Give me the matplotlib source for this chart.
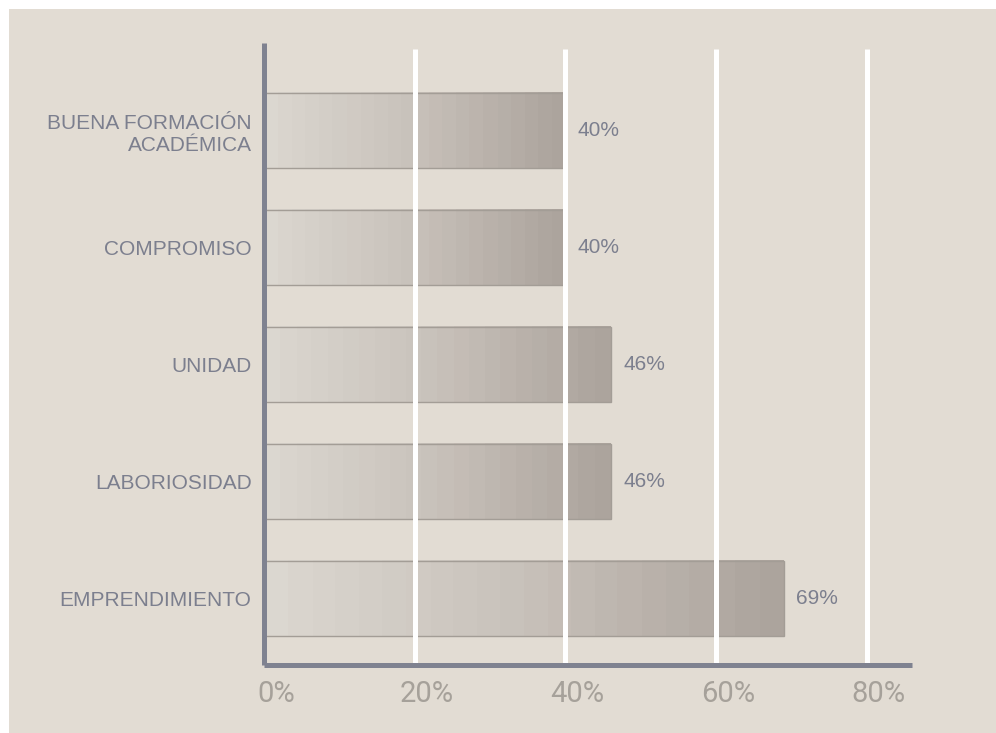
import matplotlib
matplotlib.use("Agg")
import matplotlib.pyplot as plt
import matplotlib.transforms as mtransforms
from matplotlib.colors import LinearSegmentedColormap
from matplotlib.patches import Rectangle
import numpy as np

categories = ["EMPRENDIMIENTO", "LABORIOSIDAD", "UNIDAD", "COMPROMISO",
              "BUENA FORMACIÓN\nACADÉMICA"]
values = [69, 46, 46, 40, 40]
value_labels = ["69%", "46%", "46%", "40%", "40%"]
xticks = [0, 20, 40, 60, 80]
xtick_labels = ["0%", "20%", "40%", "60%", "80%"]

BG = "#e2dcd3"
AXIS = "#7f8290"
TEXT = "#7c7f8e"
TICK = "#a6a19a"

W, H = 996, 733
fig = plt.figure(figsize=(W / 100, H / 100), dpi=100, facecolor="white")
fig.patches.append(Rectangle((9 / W, 0), 1 - 9 / W, 1 - 9 / H, transform=fig.transFigure,
                             facecolor=BG, edgecolor="none", zorder=-10))

ax = fig.add_axes([264 / W, 68 / H, 648 / W, 622 / H])
ax.set_facecolor("none")
ylo, yhi = -0.568, 4.748

# stepped horizontal gradient, stretched over each bar's length
cmap = LinearSegmentedColormap.from_list("bar", ["#dbd7d0", "#c8c1ba", "#aca49d"], N=22)
grad = np.linspace(0, 1, 256).reshape(1, -1)
bar_h = 0.641
ypos = np.arange(len(categories))
for y, v, lab in zip(ypos, values, value_labels):
    ax.imshow(grad, cmap=cmap, aspect="auto", interpolation="nearest",
              extent=[0, v, y - bar_h / 2, y + bar_h / 2], zorder=1)
    ax.add_patch(Rectangle((0, y - bar_h / 2), v, bar_h, facecolor="none",
                           edgecolor="#a39d96", linewidth=1.0, zorder=2))
    ax.annotate(lab, (v, y), xytext=(9, 0), textcoords="offset points",
                ha="left", va="center", fontsize=15, color=TEXT,
                family="Liberation Sans")

ax.set_xlim(0, 86)
ax.set_ylim(ylo, yhi)

# white guides above the bars
ax.vlines(xticks[1:], ylo, 4.697, colors="white", linewidth=3.6, zorder=3)

for side in ("top", "right"):
    ax.spines[side].set_visible(False)
for side in ("left", "bottom"):
    ax.spines[side].set_color(AXIS)
    ax.spines[side].set_linewidth(3.6)
    ax.spines[side].set_zorder(4)
    ax.spines[side].set_capstyle("butt")

ax.set_yticks(ypos)
ax.set_yticklabels(categories, fontsize=15, color=TEXT, family="Liberation Sans")
ax.tick_params(axis="y", length=0, pad=9)

ax.set_xticks(xticks)
ax.set_xticklabels(xtick_labels, fontsize=21, color=TICK, family="Roboto",
                   fontweight="normal")
ax.tick_params(axis="x", length=0, pad=11)
shift = mtransforms.ScaledTranslation(12 / 100, 0, fig.dpi_scale_trans)
for lab in ax.get_xticklabels():
    lab.set_transform(lab.get_transform() + shift)

fig.savefig("out.png", dpi=100, facecolor="white")
